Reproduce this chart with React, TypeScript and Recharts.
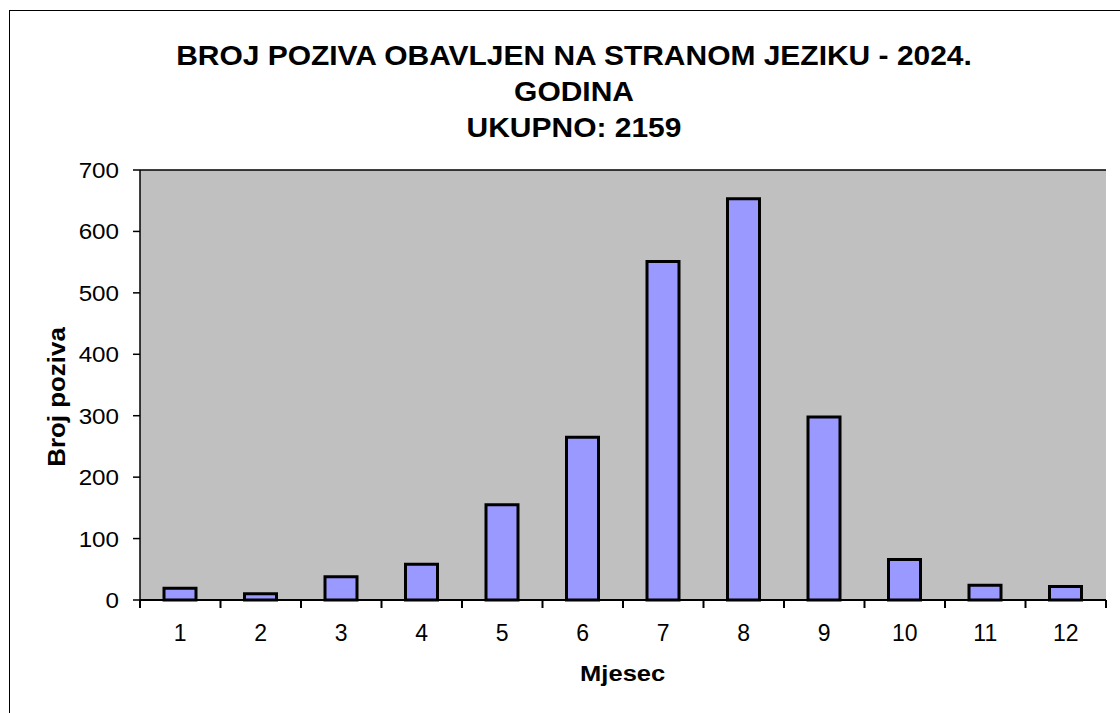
import React from "react";
import { BarChart, Bar, XAxis, YAxis, CartesianGrid, Label } from "recharts";

const months = ["1", "2", "3", "4", "5", "6", "7", "8", "9", "10", "11", "12"];
const calls = [19, 10, 38, 58, 155, 265, 551, 653, 298, 66, 24, 22];
const yTicks = [0, 100, 200, 300, 400, 500, 600, 700];

const titleLines = [
  "BROJ POZIVA OBAVLJEN NA STRANOM JEZIKU - 2024.",
  "GODINA",
  "UKUPNO: 2159",
];

const data = months.map((m, i) => ({ month: m, calls: calls[i] }));

const FONT = "'Liberation Sans', Arial, sans-serif";
const PLOT_LEFT = 140;
const PLOT_RIGHT = 1106;
const BAND = (PLOT_RIGHT - PLOT_LEFT) / months.length;

const MonthTick = (props: any) => {
  const { x, y, payload, index } = props;
  const left = x - BAND / 2;
  return (
    <g>
      <line x1={left} y1={y - 8} x2={left} y2={y} stroke="#000" strokeWidth={2} />
      {index === months.length - 1 && (
        <line x1={x + BAND / 2} y1={y - 8} x2={x + BAND / 2} y2={y} stroke="#000" strokeWidth={2} />
      )}
      <text x={x} y={y + 33} textAnchor="middle" fontSize={23} fontFamily={FONT} fill="#000">
        {payload.value}
      </text>
    </g>
  );
};

const ValueTick = (props: any) => {
  const { x, y, payload } = props;
  return (
    <text
      x={x}
      y={y + 8}
      textAnchor="end"
      fontSize={22}
      fontFamily={FONT}
      fill="#000"
      transform={`translate(${x},0) scale(1.1,1) translate(${-x},0)`}
    >
      {payload.value}
    </text>
  );
};

// rotated y-axis title, drawn a bit below the plot's centre like the original
const YTitle = () => (
  <text
    x={0}
    y={0}
    transform="translate(65,397) rotate(-90) scale(1.08,1)"
    textAnchor="middle"
    fontFamily={FONT}
    fontWeight="bold"
    fontSize={24}
    fill="#000"
  >
    Broj poziva
  </text>
);

const App: React.FC = () => {
  return (
    <div
      style={{
        position: "absolute",
        left: 0,
        top: 0,
        width: 1120,
        height: 713,
        overflow: "hidden",
        background: "#fff",
      }}
    >
      <div
        style={{
          position: "absolute",
          left: 9,
          top: 10,
          width: 1200,
          height: 800,
          border: "1px solid #000",
        }}
      />
      <div
        style={{
          position: "absolute",
          left: 0,
          top: 38,
          width: 1148,
          textAlign: "center",
          fontFamily: FONT,
          fontWeight: "bold",
          fontSize: 28,
          lineHeight: "36px",
          color: "#000",
          transform: "scaleX(1.07)",
          transformOrigin: "574px 0",
        }}
      >
        {titleLines.map((t) => (
          <div key={t}>{t}</div>
        ))}
      </div>
      <div style={{ position: "absolute", left: 0, top: 0 }}>
        <BarChart
          width={1120}
          height={713}
          data={data}
          margin={{ top: 170, right: 1120 - PLOT_RIGHT, left: 0, bottom: 73 }}
          barCategoryGap={0}
        >
          <CartesianGrid
            vertical={false}
            stroke="#000"
            strokeWidth={1.5}
            fill="#C0C0C0"
            fillOpacity={1}
          />
          <XAxis
            dataKey="month"
            height={40}
            tickLine={false}
            axisLine={{ stroke: "#000", strokeWidth: 2 }}
            tick={<MonthTick />}
            interval={0}
          >
            <Label
              value="Mjesec"
              position="insideBottom"
              offset={-41}
              style={{ fontFamily: FONT, fontWeight: "bold", fontSize: 22, fill: "#000" }}
              transform="translate(625,0) scale(1.16,1) translate(-625,0)"
            />
          </XAxis>
          <YAxis
            yAxisId="left"
            width={PLOT_LEFT}
            domain={[0, 700]}
            ticks={yTicks}
            interval={0}
            tickSize={7}
            tickMargin={14}
            tickLine={{ stroke: "#000", strokeWidth: 1.5 }}
            axisLine={{ stroke: "#000", strokeWidth: 1.5 }}
            tick={<ValueTick />}
          >
            <Label content={<YTitle />} />
          </YAxis>
          <YAxis
            yAxisId="right"
            orientation="right"
            width={0}
            domain={[0, 700]}
            tick={false}
            tickLine={false}
            axisLine={{ stroke: "#808080", strokeWidth: 2 }}
          />
          <Bar
            yAxisId="left"
            dataKey="calls"
            fill="#9999FF"
            stroke="#000"
            strokeWidth={3}
            barSize={32}
            isAnimationActive={false}
          />
        </BarChart>
      </div>
    </div>
  );
};

export default App;
